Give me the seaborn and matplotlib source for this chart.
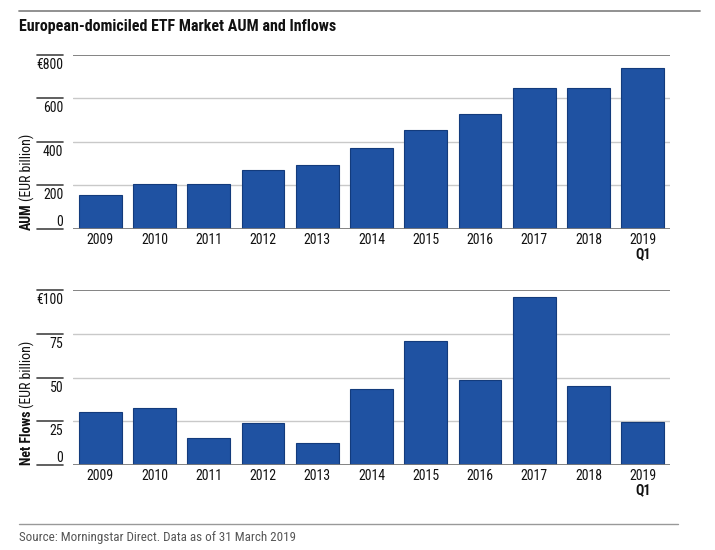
import matplotlib
matplotlib.use("Agg")
import matplotlib.pyplot as plt
import matplotlib.transforms as mtransforms
from matplotlib import font_manager
import seaborn as sns
import pandas as pd

years = ["2009", "2010", "2011", "2012", "2013", "2014", "2015", "2016", "2017", "2018", "2019"]
aum = [154, 205, 206, 269, 293, 370, 456, 530, 648, 648, 740]
net_flows = [30.0, 32.7, 15.1, 23.9, 12.3, 43.4, 70.9, 48.4, 96.3, 45.3, 24.7]
aum_ticks = [0, 200, 400, 600, 800]
aum_tick_labels = ["0", "200", "400", "600", "€800"]
flow_ticks = [0, 25, 50, 75, 100]
flow_tick_labels = ["0", "25", "50", "75", "€100"]
title = "European-domiciled ETF Market AUM and Inflows"
source = "Source: Morningstar Direct. Data as of 31 March 2019"

sns.set_theme(style="white")
avail = {f.name for f in font_manager.fontManager.ttflist}
fam = "DejaVu Sans"
for cand in ["Liberation Sans Narrow", "DejaVu Sans Condensed", "Roboto Condensed", "Liberation Sans"]:
    if cand in avail:
        fam = cand
        break
plt.rcParams["font.family"] = [fam, "DejaVu Sans"]

W, H = 715, 550
fig = plt.figure(figsize=(W / 100, H / 100), dpi=100)

BAR = "#1f52a2"
EDGE = "#133b7c"
GRID = "#c9c9c9"
DARK = "#7a7a7a"
TXT = "#111111"

def fx(px):
    return px / W

def fy(py):
    return 1 - py / H

ax1 = fig.add_axes([fx(73), fy(228.7), fx(597), (228.7 - 55) / H])
ax2 = fig.add_axes([fx(73), fy(464.7), fx(597), (464.7 - 290.3) / H])

df1 = pd.DataFrame({"year": years, "value": aum})
df2 = pd.DataFrame({"year": years, "value": net_flows})

def style(ax, df, ticks, labels, top):
    sns.barplot(data=df, x="year", y="value", ax=ax, color=BAR, width=0.79,
                edgecolor=EDGE, linewidth=0.8, saturation=1, zorder=3)
    ax.set_ylim(0, top)
    ax.set_xlim(-0.5, len(years) - 0.5)
    for s in ax.spines.values():
        s.set_visible(False)
    ax.set_xlabel("")
    ax.set_ylabel("")
    ax.set_yticks([])
    ax.tick_params(axis="x", length=0, pad=3, labelsize=10, labelcolor=TXT)
    ax.set_xticks(range(len(years)))
    ax.set_xticklabels(years)
    for t in ticks:
        c = DARK if t in (0, top) else GRID
        lw = 1.3 if t in (0, top) else 1.0
        ax.axhline(t, color=c, lw=lw, zorder=4 if t == 0 else 1)
    trans = mtransforms.blended_transform_factory(ax.transAxes, ax.transData)
    for t, lab in zip(ticks, labels):
        ax.plot([-0.0608, -0.0162], [t, t], transform=trans, color="#444444",
                lw=1.2, clip_on=False)
        off = 7 if t == 0 else -10
        ax.annotate(lab, xy=(-0.0162, t), xycoords=trans, xytext=(0, off),
                    textcoords="offset pixels", ha="right", va="center",
                    fontsize=10, color=TXT)
    transx = mtransforms.blended_transform_factory(ax.transData, ax.transAxes)
    ax.annotate("Q1", xy=(len(years) - 1, 0), xycoords=transx, xytext=(0, -26),
                textcoords="offset pixels", ha="center", va="center",
                fontsize=10, fontweight="bold", color=TXT)

style(ax1, df1, aum_ticks, aum_tick_labels, 800)
style(ax2, df2, flow_ticks, flow_tick_labels, 100)

# title and rules
fig.add_artist(plt.Line2D([fx(19), fx(700)], [fy(11), fy(11)], color="#888888", lw=1.3))
fig.text(fx(19), fy(26), title, fontsize=11.5, fontweight="bold", ha="left", va="center", color=TXT)
fig.add_artist(plt.Line2D([fx(19), fx(678)], [fy(524), fy(524)], color="#999999", lw=1.0))
fig.text(fx(19), fy(537), source, fontsize=9.4, ha="left", va="center", color="#555555")

# y axis labels with mixed weights
fig.canvas.draw()
renderer = fig.canvas.get_renderer()

def ylab(bold, normal, x_px, y_bottom_px):
    t1 = fig.text(fx(x_px), fy(y_bottom_px), bold, rotation=90, rotation_mode="anchor",
                  ha="left", va="center", fontsize=10, fontweight="bold", color=TXT)
    bb = t1.get_window_extent(renderer)
    y2 = y_bottom_px - bb.height - 2
    fig.text(fx(x_px), fy(y2), normal, rotation=90, rotation_mode="anchor",
             ha="left", va="center", fontsize=10, color=TXT)

ylab("AUM", "(EUR billion)", 27, 230)
ylab("Net Flows", "(EUR billion)", 27, 465)

fig.savefig("out.png", dpi=100)
